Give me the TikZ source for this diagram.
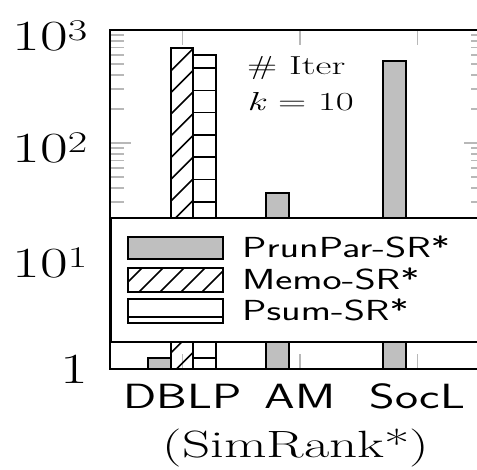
\documentclass[tikz,border=0pt]{standalone}
\usepackage{fontspec}
\definecolor{barfill}{gray}{0.75}
\definecolor{tickgray}{gray}{0.72}
\newcommand{\hstretch}[2][1.4]{\scalebox{#1}[1]{#2}}

\begin{document}
\begin{tikzpicture}[x=1pt,y=-1pt,
  barbox/.style={draw=black, line width=2.3pt},
  tickline/.style={draw=tickgray, line width=1.6pt},
  frame/.style={draw=black, line width=1.8pt},
  ticklabel/.style={anchor=base east, inner sep=0pt, font=\fontsize{43}{43}\selectfont},
  catlabel/.style={anchor=base, inner sep=0pt, font=\sffamily\fontsize{35}{35}\selectfont},
  legendlabel/.style={anchor=base west, inner sep=0pt, font=\sffamily\fontsize{29}{29}\selectfont},
  note/.style={anchor=base west, inner sep=0pt, font=\fontsize{26}{26}\selectfont}]
\useasboundingbox (0,0) rectangle (477,469);

\begin{scope}
\clip (0,0) rectangle (477,469);

% y ticks (log scale, 1 .. 1000), left and right
\foreach \d in {0,1,2}{
  \foreach \k in {2,...,9}{
    \pgfmathsetmacro{\yy}{369-113*(\d+log10(\k))}
    \draw[tickline] (110,\yy) -- (124,\yy);
    \draw[tickline] (485,\yy) -- (471,\yy);
  }
}
\foreach \yy in {30,143,256,369}{
  \draw[tickline] (110,\yy) -- (131,\yy);
  \draw[tickline] (485,\yy) -- (464,\yy);
}
% x ticks
\foreach \xx in {182.5,300,417.5}{
  \draw[tickline] (\xx,30) -- (\xx,45);
  \draw[tickline] (\xx,369) -- (\xx,354);
}

% DBLP bars
\draw[barbox, fill=barfill] (148,369) rectangle (171,358);
\begin{scope}
  \clip (171,48) rectangle (193,369);
  \foreach \c in {0,...,16}{
    \draw[line width=1.6pt] (160,{60+21.7*\c}) -- (210,{10+21.7*\c});
  }
\end{scope}
\draw[barbox] (171,369) rectangle (193,48);
\begin{scope}
  \clip (193,55) rectangle (216,369);
  \foreach \c in {0,...,13}{
    \draw[line width=1.6pt] (193,{68+22.3*\c}) -- (216,{68+22.3*\c});
  }
\end{scope}
\draw[barbox] (193,369) rectangle (216,55);

% AM and SocL bars
\draw[barbox, fill=barfill] (266,369) rectangle (289,193);
\draw[barbox, fill=barfill] (383,369) rectangle (406,61);

% legend
\draw[frame, fill=white] (111,218) rectangle (481,342);
\draw[barbox, fill=barfill] (128,237) rectangle (223,259);
\begin{scope}
  \clip (128,268) rectangle (223,292);
  \foreach \c in {0,...,6}{
    \draw[line width=1.6pt] ({110+21*\c},300) -- ({150+21*\c},260);
  }
\end{scope}
\draw[barbox] (128,268) rectangle (223,292);
\draw[line width=1.6pt] (128,317) -- (223,317);
\draw[barbox] (128,299) rectangle (223,323);

% axis frame
\draw[frame] (110,30) rectangle (485,369);
\end{scope}

% legend texts
\node[legendlabel] (lgA) at (242,257) {\hstretch{PrunPar-SR*}};
\node[legendlabel] (lgB) at (242,289) {\hstretch{Memo-SR*}};
\node[legendlabel] (lgC) at (242,320) {\hstretch{Psum-SR*}};

% annotation
\node[note] (iter) at (247,74) {\hstretch[1.5]{\# Iter}};
\node[note] (kval) at (247,110) {\hstretch[1.5]{\textit{k} = 10}};

% y tick labels
\node[ticklabel] (y3) at (88,50) {\hstretch{10\textsuperscript{3}}};
\node[ticklabel] (y2) at (88,162) {\hstretch{10\textsuperscript{2}}};
\node[ticklabel] (y1) at (88,277) {\hstretch{10\textsuperscript{1}}};
\node[ticklabel] (y0) at (88,383) {\hstretch{1}};

% category labels
\node[catlabel] (cDBLP) at (182.5,408) {\hstretch{DBLP}};
\node[catlabel] (cAM) at (300,408) {\hstretch{AM}};
\node[catlabel] (cSocL) at (417.5,408) {\hstretch{SocL}};

% axis title
\node[anchor=base, inner sep=0pt, font=\fontsize{38}{38}\selectfont] (title) at (296,457) {\hstretch[1.45]{(SimRank*)}};
\end{tikzpicture}
\end{document}
